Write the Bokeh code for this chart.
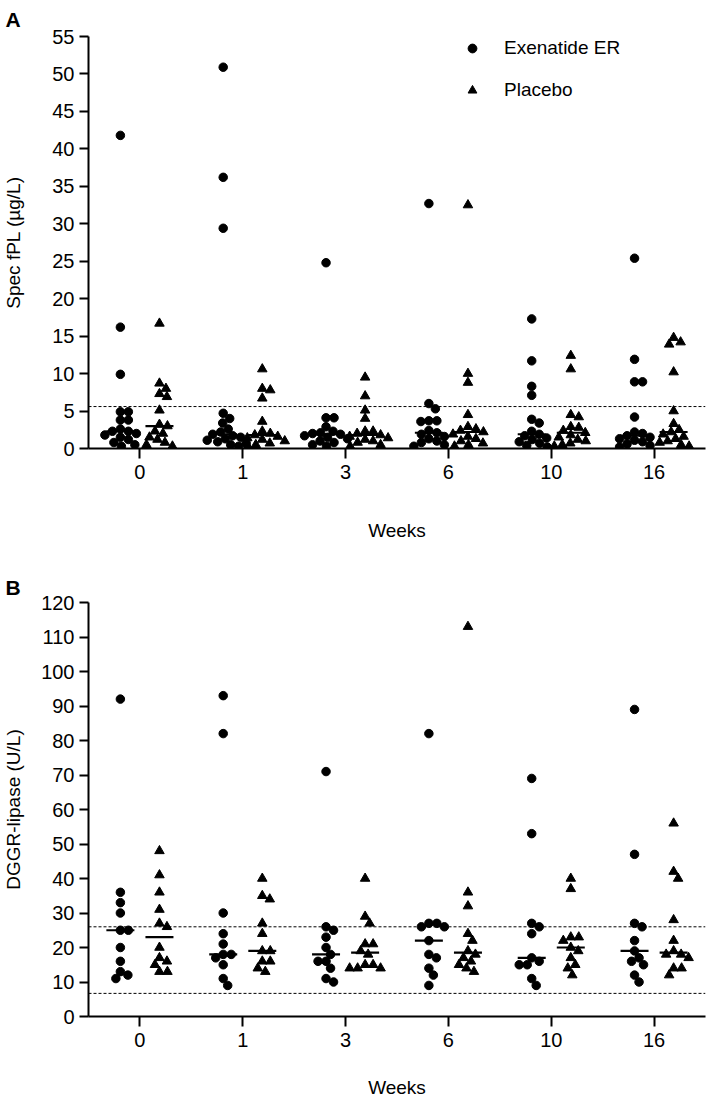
import numpy as np
from bokeh.plotting import figure
from bokeh.layouts import column
from bokeh.models import Span, Title, Legend, LegendItem, FixedTicker
from bokeh.embed import file_html
from bokeh.resources import INLINE

weeks = ["0", "1", "3", "6", "10", "16"]

# Panel A: Spec fPL (µg/L)
fpl_exenatide = [
    [41.8, 16.2, 9.9, 4.9, 4.9, 3.8, 3.8, 2.6, 2.3, 2.3, 2.0, 1.8, 1.5, 1.2, 0.8, 0.5, 0.3],
    [50.9, 36.2, 29.4, 4.7, 4.0, 3.4, 2.6, 2.2, 1.9, 1.7, 1.5, 1.3, 1.1, 0.9, 0.7, 0.5, 0.3],
    [24.8, 4.1, 4.1, 2.9, 2.3, 2.1, 2.0, 1.9, 1.7, 1.5, 1.3, 1.0, 0.8, 0.5, 0.3],
    [32.7, 6.0, 5.3, 3.7, 3.7, 3.6, 2.4, 2.1, 1.9, 1.6, 1.3, 1.0, 0.8, 0.5, 0.3],
    [17.3, 11.7, 8.3, 7.1, 3.9, 3.4, 2.3, 1.9, 1.7, 1.4, 1.2, 0.9, 0.7, 0.4, 0.2],
    [25.4, 11.9, 8.9, 8.9, 4.2, 2.2, 2.0, 1.7, 1.5, 1.3, 1.1, 0.9, 0.6, 0.4, 0.2],
]
fpl_placebo = [
    [16.7, 8.7, 8.0, 7.3, 6.9, 5.1, 3.2, 3.0, 2.3, 2.0, 1.5, 1.2, 0.8, 0.5, 0.3],
    [10.6, 8.0, 7.8, 6.7, 3.6, 2.3, 2.0, 1.8, 1.6, 1.4, 1.2, 1.0, 0.7, 0.5, 0.3],
    [9.5, 7.0, 5.1, 4.0, 2.3, 2.3, 2.0, 1.8, 1.6, 1.4, 1.2, 1.0, 0.8, 0.5, 0.3],
    [32.5, 10.0, 8.8, 4.5, 2.9, 2.6, 2.4, 2.2, 1.9, 1.6, 1.3, 1.0, 0.7, 0.5, 0.3],
    [12.4, 10.6, 4.5, 4.2, 2.9, 2.8, 2.4, 2.1, 1.8, 1.5, 1.2, 1.0, 0.7, 0.5, 0.3],
    [14.8, 14.2, 13.9, 10.2, 5.0, 3.3, 2.5, 2.2, 1.9, 1.6, 1.3, 1.0, 0.8, 0.5, 0.3],
]
fpl_cutoff = [5.6]

# Panel B: DGGR-lipase (U/L)
lipase_exenatide = [
    [92, 36, 33, 30, 25, 25, 20, 16, 13, 12, 11],
    [93, 82, 30, 24, 21, 18, 18, 17, 15, 11, 9],
    [71, 26, 25, 23, 20, 18, 16, 16, 14, 11, 10],
    [82, 27, 27, 26, 26, 22, 18, 17, 14, 12, 9],
    [69, 53, 27, 26, 24, 17, 16, 15, 15, 11, 9],
    [89, 47, 27, 26, 22, 19, 17, 16, 15, 12, 10],
]
lipase_placebo = [
    [48, 41, 36, 31, 27, 26, 20, 17, 16, 15, 13, 13],
    [40, 35, 34, 27, 24, 19, 19, 16, 16, 14, 13],
    [40, 29, 27, 21, 21, 19, 18, 15, 15, 14, 14, 14],
    [113, 36, 32, 24, 22, 19, 18, 17, 16, 15, 14, 13],
    [40, 37, 23, 23, 22, 20, 19, 17, 15, 14, 12],
    [56, 42, 40, 28, 22, 19, 18, 18, 17, 14, 14, 12],
]
lipase_range = [6.7, 26]

FONT = "Liberation Sans"
W = 708
LEFT = 87
FRAME_W = 618


def swarm(vals, center, ppu_y, ppu_x, d=8.0):
    """Beeswarm-style horizontal spreading (pixel space) around a center."""
    placed = []
    res = [0.0] * len(vals)
    order = sorted(range(len(vals)), key=lambda i: -vals[i])
    for i in order:
        y = vals[i] * ppu_y
        best = None
        for step in np.arange(0, 80, 0.5):
            cands = [0.0] if step == 0 else [step, -step]
            for s in cands:
                if all((s - px) ** 2 + (y - py) ** 2 >= d * d for px, py in placed):
                    best = s
                    break
            if best is not None:
                break
        placed.append((best, y))
        res[i] = center + best / ppu_x
    return res


def panel(exen, plac, ymax, ystep, ylabel, refs, height, top, bottom, frame_h,
          letter, letter_standoff, ylab_standoff, xlab_standoff, show_legend):
    p = figure(width=W, height=height, x_range=(-0.5, 5.5), y_range=(0, ymax),
               output_backend="svg", toolbar_location=None,
               min_border_left=LEFT, min_border_right=W - LEFT - FRAME_W,
               min_border_top=top, min_border_bottom=bottom)
    p.grid.visible = False
    p.outline_line_color = None
    p.background_fill_color = "white"

    ppu_x = FRAME_W / 6.0
    ppu_y = frame_h / ymax
    off = 0.19

    ex_x, ex_y, pl_x, pl_y = [], [], [], []
    med_ex_x, med_ex_y, med_pl_x, med_pl_y = [], [], [], []
    for i in range(len(weeks)):
        ex_x += swarm(exen[i], i - off, ppu_y, ppu_x)
        ex_y += list(exen[i])
        pl_x += swarm(plac[i], i + off, ppu_y, ppu_x)
        pl_y += list(plac[i])
        med_ex_x.append(i - off)
        med_ex_y.append(float(np.median(exen[i])))
        med_pl_x.append(i + off)
        med_pl_y.append(float(np.median(plac[i])))

    for r in refs:
        p.add_layout(Span(location=r, dimension="width", line_color="black",
                          line_width=1, line_dash="3 2"))

    r_ex = p.scatter(x=ex_x, y=ex_y, marker="circle", size=8.5,
                     fill_color="black", line_color="black")
    r_pl = p.scatter(x=pl_x, y=pl_y, marker="triangle", size=9.5,
                     fill_color="black", line_color="black")
    p.scatter(x=med_ex_x, y=med_ex_y, marker="dash", size=28,
              line_color="black", line_width=2.2)
    p.scatter(x=med_pl_x, y=med_pl_y, marker="dash", size=28,
              line_color="black", line_width=2.2)

    # axes
    p.xaxis.ticker = FixedTicker(ticks=list(range(len(weeks))))
    p.xaxis.major_label_overrides = {i: w for i, w in enumerate(weeks)}
    p.yaxis.ticker = FixedTicker(ticks=list(range(0, ymax + 1, ystep)))
    for ax in (p.xaxis[0], p.yaxis[0]):
        ax.axis_line_width = 2
        ax.axis_line_color = "black"
        ax.major_tick_line_width = 2
        ax.major_tick_line_color = "black"
        ax.major_tick_in = 0
        ax.minor_tick_line_color = None
        ax.major_label_text_font = FONT
        ax.major_label_text_font_size = "20px"
        ax.major_label_text_color = "black"
        ax.axis_label_text_font = FONT
        ax.axis_label_text_font_size = "19px"
        ax.axis_label_text_font_style = "normal"
        ax.axis_label_text_color = "black"
    p.xaxis.major_tick_out = 10
    p.xaxis.major_label_standoff = 6
    p.yaxis.major_tick_out = 9
    p.yaxis.major_label_standoff = 5
    p.xaxis.axis_label = "Weeks"
    p.xaxis.axis_label_standoff = xlab_standoff
    p.yaxis.axis_label = ylabel
    p.yaxis.axis_label_standoff = ylab_standoff

    if show_legend:
        leg = Legend(items=[LegendItem(label="Exenatide ER", renderers=[r_ex]),
                            LegendItem(label="Placebo", renderers=[r_pl])],
                     location=(373, frame_h - 1 - 64), orientation="vertical",
                     glyph_width=22, glyph_height=22, label_height=22,
                     spacing=20, padding=0, margin=0, label_standoff=21,
                     label_text_font=FONT, label_text_font_size="19px",
                     label_text_color="black",
                     border_line_color=None, background_fill_alpha=0)
        p.add_layout(leg, "center")

    # panel letter as a left-aligned title pushed back over the left border
    p.add_layout(Title(text=letter, align="left", offset=-(LEFT - 4),
                       standoff=letter_standoff, text_font=FONT, text_font_size="21px",
                       text_font_style="bold", text_color="black"), "above")
    return p


pA = panel(fpl_exenatide, fpl_placebo, 55, 5, "Spec fPL (µg/L)", fpl_cutoff,
           height=566, top=36, bottom=118, frame_h=412, letter="A", letter_standoff=11,
           ylab_standoff=25, xlab_standoff=38, show_legend=True)
pB = panel(lipase_exenatide, lipase_placebo, 120, 10, "DGGR-lipase (U/L)", lipase_range,
           height=534, top=36, bottom=83, frame_h=415, letter="B", letter_standoff=7,
           ylab_standoff=14, xlab_standoff=27, show_legend=False)

layout = column(pA, pB)
open("out.html", "w").write(file_html(layout, INLINE))
